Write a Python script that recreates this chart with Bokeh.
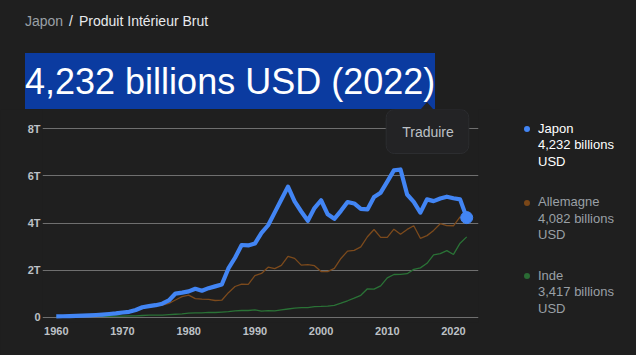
from bokeh.plotting import figure
from bokeh.models import Range1d, Label, FixedTicker, Div
from bokeh.layouts import column, row
from bokeh.embed import file_html
from bokeh.resources import INLINE

years = list(range(1960, 2023))
japon = [0.044, 0.054, 0.061, 0.069, 0.082, 0.091, 0.106, 0.124, 0.147, 0.172,
         0.212, 0.240, 0.318, 0.432, 0.480, 0.522, 0.585, 0.721, 1.014, 1.055,
         1.105, 1.218, 1.134, 1.243, 1.319, 1.399, 2.079, 2.532, 3.072, 3.054,
         3.133, 3.584, 3.909, 4.454, 4.998, 5.546, 4.923, 4.492, 4.098, 4.636,
         4.968, 4.374, 4.182, 4.519, 4.893, 4.831, 4.601, 4.579, 5.106, 5.289,
         5.759, 6.233, 6.272, 5.212, 4.897, 4.445, 5.004, 4.931, 5.041, 5.118,
         5.055, 5.006, 4.232]
years_de = list(range(1970, 2023))
allemagne = [0.216, 0.250, 0.300, 0.398, 0.446, 0.490, 0.520, 0.600, 0.741, 0.882,
             0.950, 0.801, 0.777, 0.771, 0.720, 0.733, 1.053, 1.313, 1.416, 1.401,
             1.772, 1.868, 2.131, 2.071, 2.206, 2.592, 2.504, 2.219, 2.241, 2.197,
             1.948, 1.945, 2.078, 2.502, 2.814, 2.846, 2.992, 3.421, 3.730, 3.398,
             3.396, 3.744, 3.527, 3.733, 3.890, 3.357, 3.469, 3.690, 3.975, 3.889,
             3.887, 4.260, 4.082]
inde = [0.037, 0.039, 0.042, 0.048, 0.056, 0.059, 0.046, 0.050, 0.053, 0.058,
        0.062, 0.067, 0.071, 0.085, 0.099, 0.098, 0.103, 0.121, 0.137, 0.153,
        0.186, 0.193, 0.200, 0.218, 0.212, 0.232, 0.248, 0.279, 0.296, 0.296,
        0.321, 0.270, 0.288, 0.279, 0.327, 0.360, 0.393, 0.415, 0.421, 0.458,
        0.468, 0.485, 0.515, 0.608, 0.709, 0.820, 0.940, 1.217, 1.199, 1.342,
        1.676, 1.823, 1.828, 1.857, 2.039, 2.104, 2.295, 2.652, 2.703, 2.836,
        2.672, 3.150, 3.417]

x_ticks = [1960, 1970, 1980, 1990, 2000, 2010, 2020]
y_ticks = [0, 2, 4, 6, 8]
y_tick_labels = ["0", "2T", "4T", "6T", "8T"]

legend_names = ["Japon", "Allemagne", "Inde"]
legend_values = ["4,232 billions", "4,082 billions", "3,417 billions"]

BG = "#1f1f1f"
FONT = "Liberation Sans"
W, H = 636, 355
TOP_H = 109          # header strip height
PW = 500             # plot width
PH = H - TOP_H       # plot height
FL, FR = 42, 478     # frame left/right (page = figure x)
FB = 322 - TOP_H     # frame bottom inside figure

# ---------- header ----------
header_html = f"""
<div style="position:relative;width:{W}px;height:{TOP_H}px;background:{BG};
 font-family:'{FONT}';overflow:hidden;">
 <div style="position:absolute;left:25px;top:12px;font-size:14px;line-height:18px;
  white-space:nowrap;color:#9aa0a6;">Japon</div>
 <div style="position:absolute;left:69px;top:12px;font-size:14px;line-height:18px;
  white-space:nowrap;color:#e8eaed;">/</div>
 <div style="position:absolute;left:79px;top:12px;font-size:14px;line-height:18px;
  white-space:nowrap;color:#e8eaed;">Produit Intérieur Brut</div>
 <div style="position:absolute;left:25px;top:53px;width:410px;height:57px;
  background:#0b3ba0;"></div>
 <div style="position:absolute;left:25px;top:53px;font-size:36px;line-height:57px;
  white-space:nowrap;color:#ffffff;">4,232 billions USD (2022)</div>
 <div style="position:absolute;left:421px;top:102px;width:0;height:0;
  border-left:6px solid transparent;border-right:6px solid transparent;
  border-bottom:7px solid #232325;"></div>
</div>
"""
header = Div(text=header_html, width=W, height=TOP_H, margin=0,
             styles={"background-color": BG})

# ---------- plot ----------
p = figure(width=PW, height=PH, output_backend="svg", toolbar_location=None,
           x_range=Range1d(1957.915, 2023.78), y_range=Range1d(-0.2119, 8.8136),
           min_border_left=FL, min_border_right=PW - FR, min_border_top=0,
           min_border_bottom=PH - FB, margin=0)
p.background_fill_color = None
p.border_fill_color = BG
p.outline_line_color = None

p.xgrid.grid_line_color = None
p.ygrid.grid_line_color = "#6f6f6f"
p.ygrid.grid_line_width = 1
p.ygrid.ticker = FixedTicker(ticks=y_ticks)

p.yaxis.ticker = FixedTicker(ticks=y_ticks)
p.yaxis.major_label_overrides = {t: l for t, l in zip(y_ticks, y_tick_labels)}
p.xaxis.ticker = FixedTicker(ticks=x_ticks)
p.xaxis.major_label_overrides = {t: str(t) for t in x_ticks}
for ax in (p.xaxis, p.yaxis):
    ax.axis_line_color = None
    ax.major_tick_line_color = None
    ax.minor_tick_line_color = None
    ax.major_tick_out = 0
    ax.major_tick_in = 0
    ax.major_label_text_font = FONT
    ax.major_label_text_font_size = "11px"
    ax.major_label_text_font_style = "bold"
    ax.major_label_text_color = "#bdc1c6"
p.yaxis.major_label_standoff = 2
p.xaxis.major_label_standoff = 4

p.line(years, inde, line_color="#2a7236", line_width=1.3)
p.line(years_de, allemagne, line_color="#7c4a1c", line_width=1.3)
p.line(years, japon, line_color="#4285f4", line_width=4.2, line_join="round")
p.scatter([years[-1]], [japon[-1]], size=12, color="#4285f4")

# tooltip "Traduire" (inside the frame)
p.add_layout(Label(x=427 - FL, y=FB - (131 - TOP_H), x_units="screen",
                   y_units="screen", text="Traduire", text_font=FONT,
                   text_font_size="14px", text_color="#bdc1c6",
                   text_align="center", text_baseline="middle",
                   background_fill_color="#232325",
                   border_line_color="#2c2d30", border_line_width=1,
                   padding=dict(left=16, right=15, top=14, bottom=14),
                   border_radius=8))

# ---------- legend ----------
dot_colors = ["#4285f4", "#7a4718", "#2a6b34"]
text_colors = ["#ffffff", "#9aa0a6", "#9aa0a6"]
items = ""
for i, (n, v) in enumerate(zip(legend_names, legend_values)):
    yc = 129 + i * 73.5 - TOP_H
    items += f"""
 <div style="position:absolute;left:24px;top:{yc - 3:.1f}px;width:6px;height:6px;
  border-radius:50%;background:{dot_colors[i]};"></div>
 <div style="position:absolute;left:38px;top:{yc - 8.25:.1f}px;font-size:13px;
  line-height:16.5px;color:{text_colors[i]};white-space:nowrap;">{n}<br>{v}<br>USD</div>"""
legend_html = f"""
<div style="position:relative;width:{W - PW}px;height:{PH}px;background:{BG};
 font-family:'{FONT}';overflow:hidden;">{items}
</div>
"""
legend = Div(text=legend_html, width=W - PW, height=PH, margin=0,
             styles={"background-color": BG})

layout = column(header, row(p, legend, spacing=0), spacing=0,
                styles={"background-color": BG})

open("out.html", "w").write(file_html(layout, INLINE))
